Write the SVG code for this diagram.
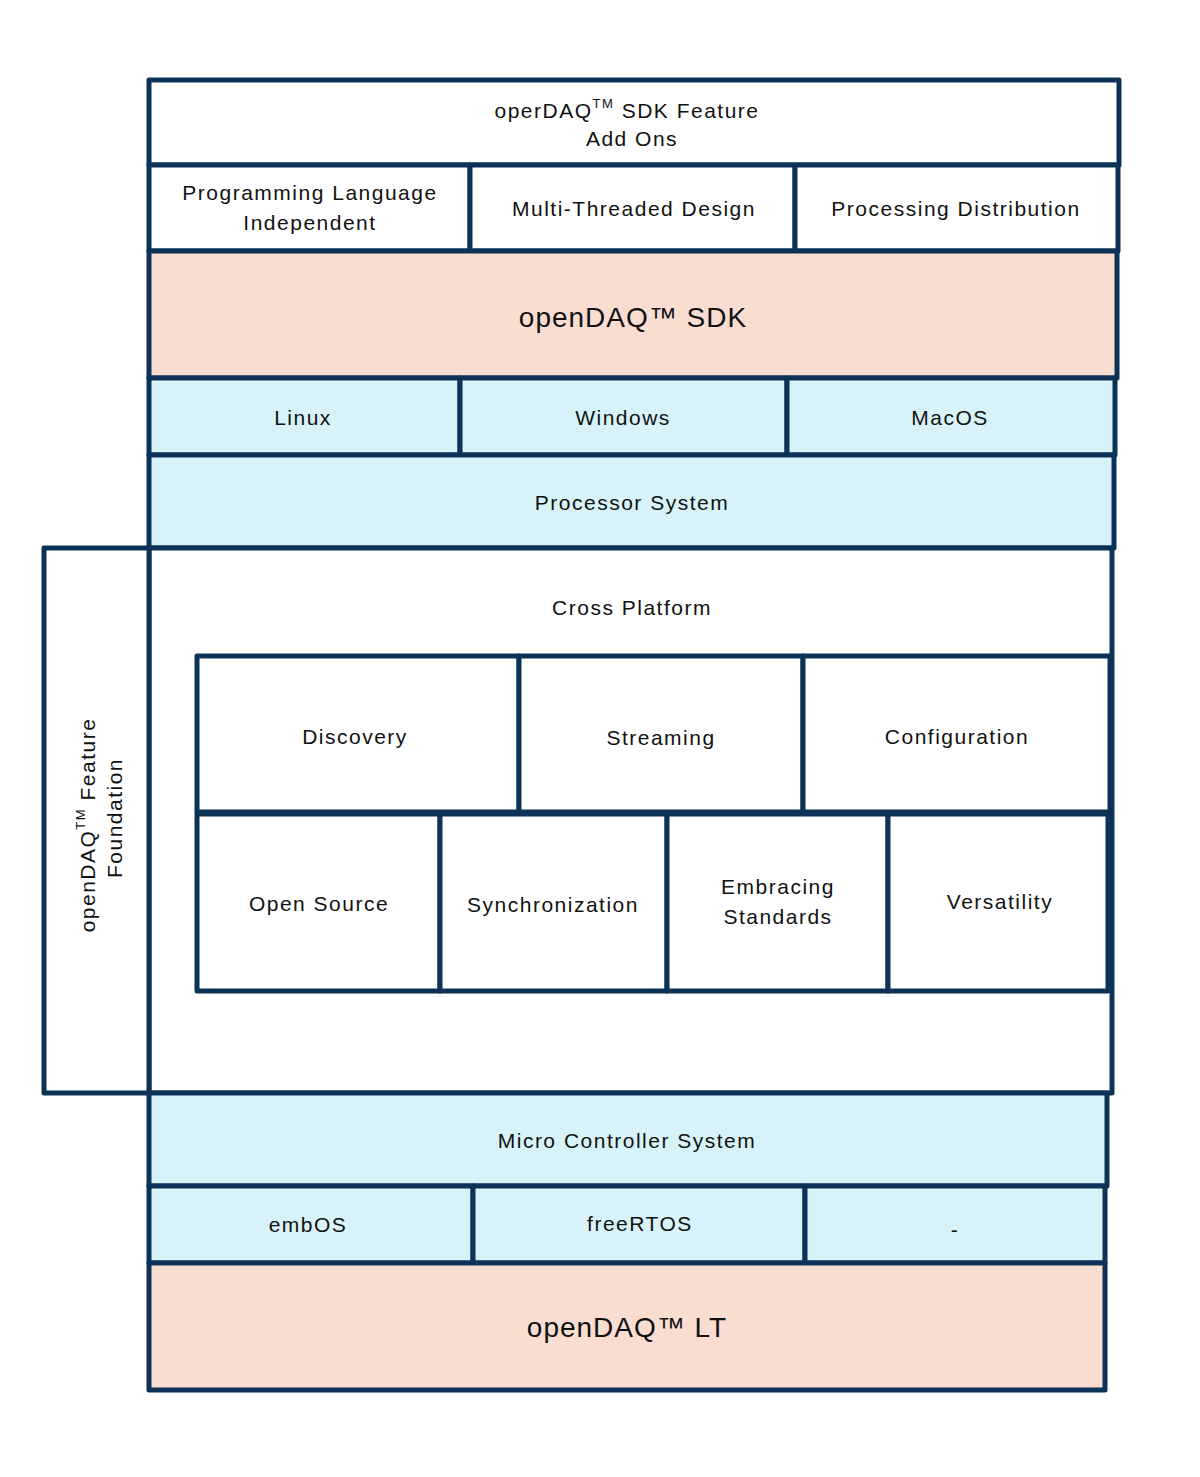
<svg xmlns="http://www.w3.org/2000/svg" width="1200" height="1477" viewBox="0 0 1200 1477">
<style>
.b{stroke:#0d3257;stroke-width:5;stroke-linejoin:round}
.w{fill:#ffffff}
.p{fill:#f9ddd1}
.c{fill:#d7f3f9}
.n{fill:none}
text{font-family:"Liberation Sans","DejaVu Sans",sans-serif;font-size:21px;fill:#111;text-anchor:middle;letter-spacing:1.5px}
.big{font-size:28px;letter-spacing:1px}
.sup{font-size:13px}
</style>
<rect width="1200" height="1477" fill="#ffffff"/>
<g id="header"><rect class="b w" x="149" y="80" width="970" height="85"/><text x="627" y="118">operDAQ<tspan class="sup" dy="-10">TM</tspan><tspan dy="10"> SDK Feature</tspan></text><text x="632" y="146">Add Ons</text></g>
<g id="lang"><rect class="b w" x="149" y="165" width="321" height="86"/><text x="310" y="200">Programming Language</text><text x="310" y="230">Independent</text></g>
<g id="mt"><rect class="b w" x="470" y="165" width="325" height="86"/><text x="634" y="216">Multi-Threaded Design</text></g>
<g id="pd"><rect class="b w" x="795" y="165" width="323" height="86"/><text x="956" y="216">Processing Distribution</text></g>
<g id="sdk"><rect class="b p" x="149" y="251" width="968" height="127"/><text class="big" x="633" y="327">openDAQ™ SDK</text></g>
<g id="linux"><rect class="b c" x="149" y="378" width="311" height="77"/><text x="303" y="425">Linux</text></g>
<g id="windows"><rect class="b c" x="460" y="378" width="327" height="77"/><text x="623" y="425">Windows</text></g>
<g id="macos"><rect class="b c" x="787" y="378" width="328" height="77"/><text x="950" y="425">MacOS</text></g>
<g id="processor"><rect class="b c" x="149" y="455" width="965" height="93"/><text x="632" y="510">Processor System</text></g>
<g id="crossplatform"><rect class="b w" x="149" y="548" width="963" height="545"/><text x="632" y="615">Cross Platform</text></g>
<g id="foundation"><rect class="b w" x="44" y="548" width="105" height="545"/><text transform="translate(95,825) rotate(-90)" x="0" y="0">openDAQ<tspan class="sup" dy="-10">TM</tspan><tspan dy="10"> Feature</tspan></text><text transform="translate(122,818) rotate(-90)" x="0" y="0">Foundation</text></g>
<g id="discovery"><rect class="b w" x="197" y="656" width="322" height="156"/><text x="355" y="744">Discovery</text></g>
<g id="streaming"><rect class="b w" x="519" y="656" width="284" height="156"/><text x="661" y="745">Streaming</text></g>
<g id="configuration"><rect class="b w" x="803" y="656" width="307" height="156"/><text x="957" y="744">Configuration</text></g>
<g id="opensource"><rect class="b w" x="197" y="814" width="243" height="177"/><text x="319" y="911">Open Source</text></g>
<g id="sync"><rect class="b w" x="440" y="814" width="227" height="177"/><text x="553" y="912">Synchronization</text></g>
<g id="standards"><rect class="b w" x="667" y="814" width="221" height="177"/><text x="778" y="894">Embracing</text><text x="778" y="924">Standards</text></g>
<g id="versatility"><rect class="b w" x="888" y="814" width="220" height="177"/><text x="1000" y="909">Versatility</text></g>
<g id="micro"><rect class="b c" x="149" y="1093" width="958" height="93"/><text x="627" y="1148">Micro Controller System</text></g>
<g id="embos"><rect class="b c" x="149" y="1186" width="324" height="77"/><text x="308" y="1232">embOS</text></g>
<g id="freertos"><rect class="b c" x="473" y="1186" width="332" height="77"/><text x="640" y="1231">freeRTOS</text></g>
<g id="other"><rect class="b c" x="805" y="1186" width="300" height="77"/><text x="955" y="1237">-</text></g>
<g id="lt"><rect class="b p" x="149" y="1263" width="956" height="127"/><text class="big" x="627" y="1337">openDAQ™ LT</text></g>
<g id="connectors"/>
</svg>
